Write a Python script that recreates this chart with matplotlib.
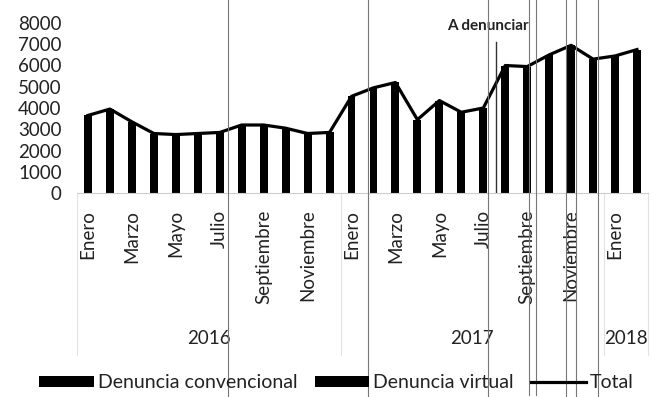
import matplotlib.pyplot as plt
import matplotlib.transforms as mtransforms
from matplotlib.lines import Line2D
import numpy as np

plt.rcParams['font.family'] = ['Lato', 'DejaVu Sans']

# Denuncias mensuales, enero 2016 - febrero 2018
meses = ["Enero", "Febrero", "Marzo", "Abril", "Mayo", "Junio", "Julio",
         "Agosto", "Septiembre", "Octubre", "Noviembre", "Diciembre"]
etiquetas = meses * 2 + meses[:2]
anios = ["2016", "2017", "2018"]
meses_por_anio = [12, 12, 2]

convencional = [3650, 3950, 3350, 2800, 2750, 2800, 2850, 3200, 3200, 3050, 2800, 2850,
                4550, 4950, 5200, 3450, 4350, 3800, 4000, 4200, 3950, 4200, 4350, 4100,
                4150, 4250]
virtual = [0] * 19 + [1800, 2000, 2300, 2600, 2200, 2300, 2500]
total = [c + v for c, v in zip(convencional, virtual)]

x = np.arange(len(total))
txt = '#222222'

fig = plt.figure(figsize=(6.53, 3.97), dpi=100)
ax = fig.add_axes([77 / 653, 1 - 193 / 397, 571 / 653, 170 / 397])

b1 = ax.bar(x, convencional, width=0.36, color='black', label='Denuncia convencional')
b2 = ax.bar(x, virtual, width=0.36, bottom=convencional, color='black', label='Denuncia virtual')
l1, = ax.plot(x, total, color='black', lw=2.3, label='Total')

ax.set_xlim(-0.5, len(x) - 0.5)
ax.set_ylim(0, 8000)
ax.set_yticks(range(0, 8001, 1000))
ax.tick_params(axis='y', length=0, pad=11, labelsize=13.5, labelcolor=txt)

ax.set_xticks(x[::2])
ax.set_xticklabels(etiquetas[::2], rotation=90, va='top', ha='center')
ax.tick_params(axis='x', length=0, pad=12, labelsize=13.5, labelcolor=txt)

for s in ['top', 'right', 'left']:
    ax.spines[s].set_visible(False)
ax.spines['bottom'].set_color('#cccccc')
ax.spines['bottom'].set_linewidth(0.8)

# años bajo los meses, centrados en su grupo
trans = mtransforms.blended_transform_factory(ax.transData, ax.transAxes)
inicio = -0.5
for anio, n in zip(anios, meses_por_anio):
    ax.text(inicio + n / 2, -0.853, anio, transform=trans, ha='center', va='center',
            fontsize=13.5, color=txt)
    ax.plot([inicio, inicio], [0, -0.95], transform=trans, color='#e2e2e2',
            lw=0.8, clip_on=False)
    inicio += n
ax.plot([inicio, inicio], [0, -0.95], transform=trans, color='#e2e2e2',
        lw=0.8, clip_on=False)

# lanzamiento de "A denunciar"
ax.plot([18.6, 18.6], [0, 7100], color='#333333', lw=1.0)
ax.text(18.2, 7850, 'A denunciar', ha='center', va='center', fontsize=11,
        fontweight='bold', color=txt)

# líneas verticales del fondo
for px, y0, y1 in [(228, 0, 397), (368, 0, 397), (488, 0, 397), (529, 0, 395),
                   (536, 0, 395), (566, 0, 397), (576, 0, 397), (598, 0, 397)]:
    fig.add_artist(Line2D([px / 653, px / 653], [1 - y1 / 397, 1 - y0 / 397],
                          transform=fig.transFigure, color='#777777', lw=0.8))

fig.legend([b1, b2, l1], ['Denuncia convencional', 'Denuncia virtual', 'Total'],
           loc='lower center', bbox_to_anchor=(0.515, -0.03), ncol=3, frameon=False,
           fontsize=14, handlelength=2.8, handleheight=0.5, columnspacing=0.9,
           handletextpad=0.2, labelcolor=txt)

fig.savefig('out.png', dpi=100)
